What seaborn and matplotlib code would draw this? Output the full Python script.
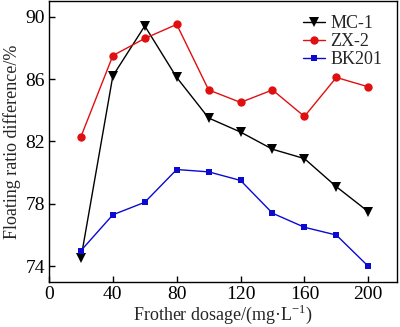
import numpy as np
import pandas as pd
import matplotlib
matplotlib.use("Agg")
import matplotlib.pyplot as plt
import seaborn as sns

dosage = [20, 40, 60, 80, 100, 120, 140, 160, 180, 200]
mc1 = [74.5, 86.2, 89.4, 86.1, 83.5, 82.6, 81.5, 80.9, 79.1, 77.5]
zx2 = [82.3, 87.5, 88.6, 89.5, 85.3, 84.5, 85.3, 83.6, 86.1, 85.5]
bk201 = [75.0, 77.3, 78.1, 80.2, 80.05, 79.5, 77.4, 76.5, 76.0, 74.0]
series_names = ["MC-1", "ZX-2", "BK201"]
xticks = [0, 40, 80, 120, 160, 200]
yticks = [74, 78, 82, 86, 90]

df = pd.DataFrame({
    "dosage": dosage * 3,
    "value": mc1 + zx2 + bk201,
    "series": [s for s in series_names for _ in dosage],
})

sns.set_style("ticks")
plt.rcParams["font.family"] = ["Liberation Serif", "DejaVu Serif"]
plt.rcParams["mathtext.fontset"] = "custom"
plt.rcParams["mathtext.rm"] = "Liberation Serif"

fig = plt.figure(figsize=(4.0, 3.27), dpi=100)
ax = fig.add_axes([0.1225, 0.138, 0.87, 0.859])

palette = {"MC-1": "#000000", "ZX-2": "#e01010", "BK201": "#0a0ad0"}
markers = {"MC-1": "v", "ZX-2": "o", "BK201": "s"}
sizes = {"MC-1": 6.5, "ZX-2": 6, "BK201": 5}

for name in series_names:
    sub = df[df["series"] == name]
    sns.lineplot(data=sub, x="dosage", y="value", ax=ax, color=palette[name],
                 marker=markers[name], markersize=sizes[name], linewidth=1.0,
                 markeredgewidth=0, label=name)

ax.set_xlim(0, 218)
ax.set_ylim(73, 91)
ax.set_xticks(xticks)
ax.set_yticks(yticks)
ax.tick_params(direction="in", length=4, width=1, labelsize=14, colors="black", pad=3)
for sp in ax.spines.values():
    sp.set_linewidth(1)
    sp.set_color("black")
ax.set_xlabel("Frother dosage/(mg·L$^{\\mathrm{-1}}$)", fontsize=13, labelpad=0)
ax.set_ylabel("Floating ratio difference/%", fontsize=13, labelpad=3)

leg = ax.legend(loc="upper right", frameon=False, fontsize=13, handlelength=1.2,
                handletextpad=0.3, labelspacing=0.05, borderaxespad=0.4)

fig.savefig("out.png", dpi=100)
